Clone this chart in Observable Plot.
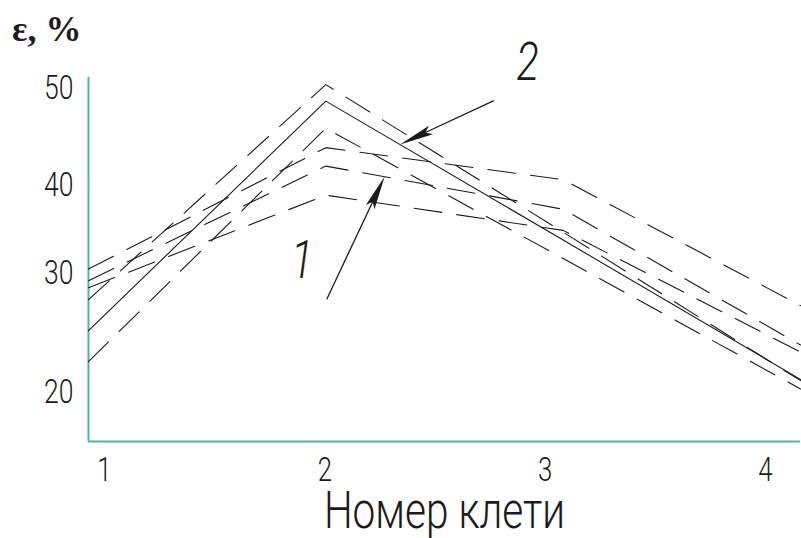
<!DOCTYPE html>
<html>
<head>
<meta charset="utf-8">
<script src="https://cdn.jsdelivr.net/npm/d3@7"></script>
<script src="https://cdn.jsdelivr.net/npm/@observablehq/plot@0.6"></script>
<style>
  body { margin: 0; background: #fff; }
  #chart { position: relative; width: 801px; height: 538px; overflow: hidden; background: #fff; }
  #chart svg { position: absolute; left: 0; top: 0; }
  #ytitle { position: absolute; left: 12px; top: 8px; line-height: 1; font: bold 36px "Liberation Serif", "DejaVu Serif", serif; color: #1d1d22; white-space: nowrap; }
</style>
</head>
<body>
<div id="chart"><div id="ytitle">ε, %</div></div>
<script>
// Stand numbers along the mill and the labels of the vertical axis
const stands = [1, 2, 3, 4];
const yTicks = [20, 30, 40, 50];

// Relative reduction ε, % per stand for each curve
const curveIds = ["a", "b", "c", "d", "e", "f"];
const epsA = [27.8, 50.4, 34.7, 21.0];
const epsB = [25.2, 48.7, 33.8, 21.1];
const epsC = [22.6, 45.9, 31.7, 20.3];
const epsD = [30.5, 43.9, 40.6, 27.3];
const epsE = [29.4, 42.0, 37.3, 24.0];
const epsF = [28.8, 38.9, 34.9, 23.4];
const solidCurves = ["b"];

// Numbered pointers: the curve they point at, where on it, where they start, label position
const pointerText = ["1", "2"];
const pointerCurve = ["e", "b"];
const pointerAt = [2.25, 2.315];
const pointerFromStand = [2.006, 2.71];
const pointerFromEps = [27.8, 48.7];
const pointerLabelStand = [1.9, 2.85];
const pointerLabelEps = [31.4, 52.6];

const xTitle = "Номер клети";

const curves = new Map(curveIds.map((id, i) => [id, [epsA, epsB, epsC, epsD, epsE, epsF][i]]));
const rows = curveIds.flatMap(id => curves.get(id).map((v, i) => ({curve: id, stand: stands[i], eps: v})));
const pointerLabels = pointerText.map((t, i) => ({text: t, stand: pointerLabelStand[i], eps: pointerLabelEps[i]}));

const FONT = 'Roboto, "DejaVu Sans", sans-serif';
const AXIS = "#55b1b0";
const INK = "#1b1b1b";

// the hand-laid ε axis is unevenly divided: map ε piecewise through its ticks
// onto a uniform drawing coordinate, which the y scale then places on the page
const axisWarp = d3.scaleLinear().domain(yTicks).range([0, 11.9, 20.7, 30.4]);
const yFrame = [-4.9, 31.5];
const Y = d => axisWarp(d.eps);

// arrow shafts and filled heads, positioned through the chart's scales
function pointers(index, scales) {
  const g = d3.create("svg:g");
  pointerCurve.forEach((id, k) => {
    const vals = curves.get(id);
    const s = pointerAt[k];
    const i = Math.floor(s) - 1, t = s - Math.floor(s);
    const tx = scales.x(s);
    const ty = scales.y(axisWarp(vals[i])) * (1 - t) + scales.y(axisWarp(vals[i + 1])) * t;
    const sx = scales.x(pointerFromStand[k]), sy = scales.y(axisWarp(pointerFromEps[k]));
    const len = Math.hypot(tx - sx, ty - sy);
    const ux = (tx - sx) / len, uy = (ty - sy) / len;
    const L = 34, W = 4.8;
    const bx = tx - ux * L, by = ty - uy * L;
    const nx = bx + ux * 6, ny = by + uy * 6;
    g.append("line").attr("x1", sx).attr("y1", sy).attr("x2", nx).attr("y2", ny)
      .attr("stroke", INK).attr("stroke-width", 1.3);
    g.append("path")
      .attr("d", `M${tx},${ty}L${bx - uy * W},${by + ux * W}L${nx},${ny}L${bx + uy * W},${by - ux * W}Z`)
      .attr("fill", INK);
  });
  return g.node();
}

const main = Plot.plot({
  width: 801,
  height: 538,
  marginLeft: 88,
  marginRight: 1,
  marginTop: 77,
  marginBottom: 97,
  style: {background: "transparent", overflow: "visible"},
  x: {domain: [stands[0], stands[stands.length - 1]], axis: null},
  y: {domain: yFrame, axis: null},
  marks: [
    Plot.text(yTicks, {
      frameAnchor: "left", y: d => axisWarp(d), text: d => String(d), textAnchor: "end", dx: -15,
      fontSize: 34, fontWeight: 300, fontFamily: FONT, fill: INK
    }),
    Plot.ruleX([stands[0]], {stroke: AXIS, strokeWidth: 2}),
    Plot.ruleY([yFrame[0]], {stroke: AXIS, strokeWidth: 2}),
    Plot.line(rows.filter(d => !solidCurves.includes(d.curve)), {
      x: "stand", y: Y, z: "curve", stroke: INK, strokeWidth: 1.1, strokeDasharray: "28,15"
    }),
    Plot.line(rows.filter(d => solidCurves.includes(d.curve)), {
      x: "stand", y: Y, z: "curve", stroke: INK, strokeWidth: 1.1
    }),
    pointers,
    Plot.text(pointerLabels, {
      x: "stand", y: Y, text: "text", fontSize: 53, fontStyle: "italic", fontWeight: 300, fontFamily: FONT, fill: INK
    }),
    Plot.text([xTitle], {frameAnchor: "bottom", dy: 86, fontSize: 52, fontWeight: 300, fontFamily: FONT, fill: INK})
  ]
});

// stand numbers under the horizontal axis
const standAxis = Plot.plot({
  width: 801,
  height: 538,
  marginLeft: 104,
  marginRight: 36,
  marginTop: 77,
  marginBottom: 97,
  style: {background: "transparent"},
  x: {domain: [stands[0], stands[stands.length - 1]]},
  marks: [
    Plot.axisX(stands, {label: null, tickFormat: d => String(d), tickSize: 0, tickPadding: 16, fontSize: 33, fontWeight: 300, fontFamily: FONT, fill: INK})
  ]
});

const chart = document.getElementById("chart");
chart.appendChild(main);
chart.appendChild(standAxis);

// narrow drafting lettering: squeeze each label's glyphs without moving its anchor
for (const svg of [main, standAxis]) {
  d3.select(svg).selectAll("text").each(function () {
    const w = this.getComputedTextLength();
    if (w > 0) {
      this.setAttribute("textLength", (w * 0.78).toFixed(1));
      this.setAttribute("lengthAdjust", "spacingAndGlyphs");
    }
  });
}
</script>
</body>
</html>
